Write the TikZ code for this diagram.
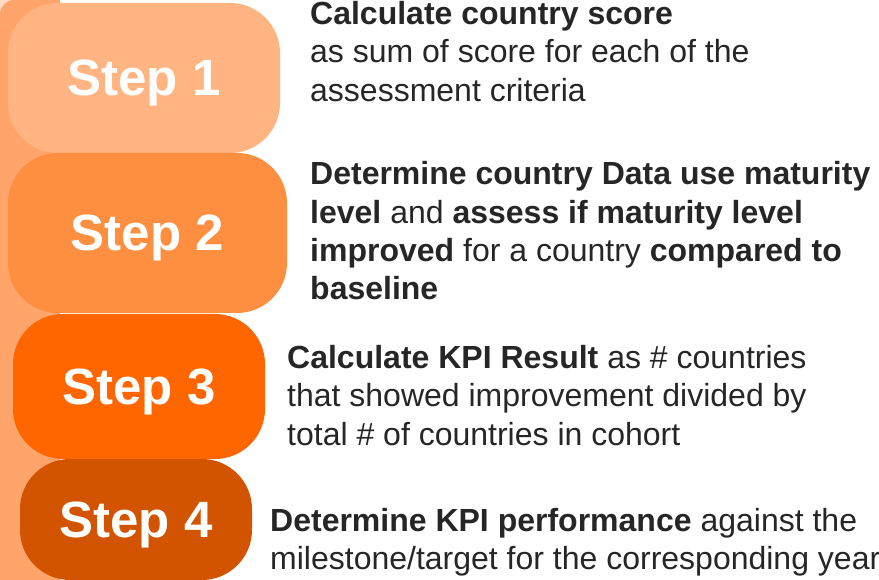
\documentclass[tikz,border=0pt]{standalone}
\usepackage{fontspec}
\setmainfont{Liberation Sans}
\definecolor{BandClr}{HTML}{FFA46A}
\definecolor{CornerClr}{HTML}{FCDCC4}
\definecolor{StepOneClr}{HTML}{FFB482}
\definecolor{StepTwoClr}{HTML}{FF8F40}
\definecolor{StepThreeClr}{HTML}{FF6600}
\definecolor{StepFourClr}{HTML}{D35400}
\definecolor{TextClr}{HTML}{262626}

\begin{document}
\begin{tikzpicture}[x=1pt,y=-1pt,
  stepbox/.style={rounded corners=50pt,inner sep=0pt,text=white,text depth=0pt,
    font=\fontsize{51}{51}\selectfont\bfseries},
  desc/.style={anchor=base west,align=left,inner sep=0pt,text=TextClr,
    font=\fontsize{32}{38.5}\selectfont}]
\useasboundingbox (0,0) rectangle (879,580);

% band on the left
\fill[CornerClr] (0,0) rectangle (16,16);
\fill[BandClr] (60,580) -- (0,580) [rounded corners=14pt] -- (0,0) [sharp corners] -- (60,0) -- cycle;

% the four steps
\node[stepbox,fill=StepOneClr,minimum width=272pt,minimum height=150pt] (step1) at (144,78) {Step 1};
\node[stepbox,fill=StepTwoClr,minimum width=279pt,minimum height=160pt] (step2) at (147.5,233) {Step 2};
\node[stepbox,fill=StepThreeClr,minimum width=252pt,minimum height=145pt] (step3) at (139,386.5) {Step 3};
\node[stepbox,fill=StepFourClr,minimum width=232pt,minimum height=121pt] (step4) at (136,519.5) {Step 4};

% what is done in each step (anchored at the last line)
\node[desc] (desc1) at (310,101.5) {\textbf{Calculate country score}\\
  as sum of score for each of the\\
  assessment criteria};
\node[desc] (desc2) at (310,300) {\textbf{Determine country Data use maturity}\\
  \textbf{level} and \textbf{assess if maturity level}\\
  \textbf{improved} for a country \textbf{compared to}\\
  \textbf{baseline}};
\node[desc] (desc3) at (287,445) {\textbf{Calculate KPI Result} as \# countries\\
  that showed improvement divided by\\
  total \# of countries in cohort};
\node[desc] (desc4) at (270,569.5) {\textbf{Determine KPI performance} against the\\
  milestone/target for the corresponding year};

\end{tikzpicture}
\end{document}
